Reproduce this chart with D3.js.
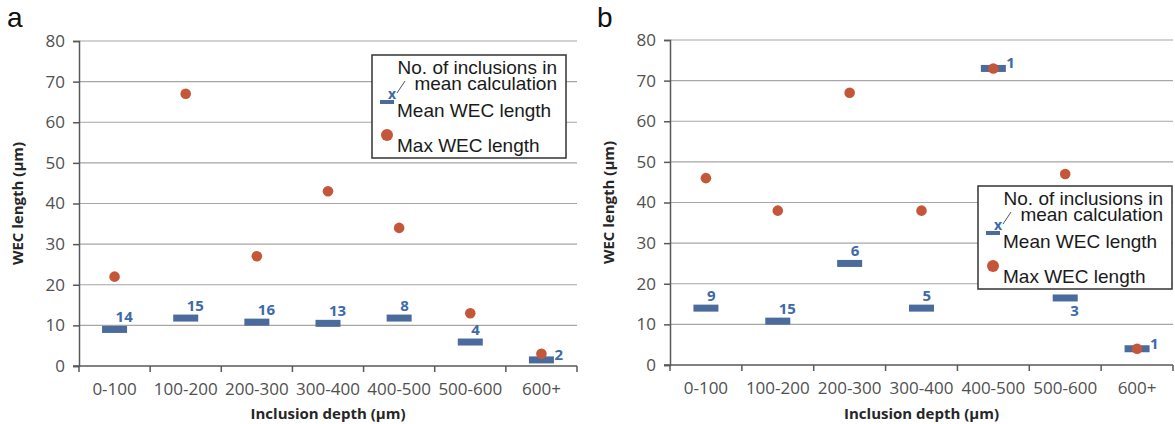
<!DOCTYPE html>
<html>
<head>
<meta charset="utf-8">
<script src="https://cdn.jsdelivr.net/npm/d3@7"></script>
<style>
  body { margin: 0; background: #fff; }
  svg { display: block; }
  .tick text { font-family: "Open Sans", sans-serif; font-size: 17px; fill: #505050; }
  .xlab { font-family: "Open Sans", sans-serif; font-size: 17px; fill: #505050; }
  .axis-title { font-family: "Open Sans", sans-serif; font-size: 15px; font-weight: bold; fill: #262626; }
  .legend text { font-family: "Liberation Sans", Arial, sans-serif; font-size: 19px; fill: #1a1a1a; }
  .count { font-family: "Open Sans", sans-serif; font-size: 15px; font-weight: bold; fill: #3d6aa8; }
</style>
</head>
<body>
<script>
// categories shared by both panels
const depths = ["0-100", "100-200", "200-300", "300-400", "400-500", "500-600", "600+"];
const yTicks = [0, 10, 20, 30, 40, 50, 60, 70, 80];

// panel a
const meanA  = [9, 11.8, 10.8, 10.5, 11.8, 5.9, 1.5];
const maxA   = [22, 67, 27, 43, 34, 13, 3];
const countA = [14, 15, 16, 13, 8, 4, 2];
const countPosA = ["above", "above", "above", "above", "above", "above", "right"];

// panel b
const meanB  = [14, 10.8, 25, 14, 73, 16.5, 4];
const maxB   = [46, 38, 67, 38, 73, 47, 4];
const countB = [9, 15, 6, 5, 1, 3, 1];
const countPosB = ["above", "above", "above", "above", "right", "below", "right"];

const BLUE = "#4a6b9c";
const RED = "#c4573a";

const svg = d3.select("body").append("svg")
    .attr("width", 1175)
    .attr("height", 424);

function drawPanel(p) {
    const x = d3.scaleBand().domain(depths).range([p.left, p.right]);
    const y = d3.scaleLinear().domain([0, 80]).range([p.bottom, p.top]);
    const g = svg.append("g");

    // panel letter
    g.append("text")
        .attr("x", p.letterX).attr("y", 27)
        .attr("font-family", "Liberation Sans, Arial, sans-serif")
        .attr("font-size", 28)
        .attr("fill", "#111")
        .text(p.letter);

    // gridlines
    g.selectAll("line.grid")
        .data(yTicks.filter(d => d > 0))
        .join("line")
        .attr("class", "grid")
        .attr("x1", p.left).attr("x2", p.right)
        .attr("y1", d => y(d)).attr("y2", d => y(d))
        .attr("stroke", "#a6a6a6")
        .attr("stroke-width", 1.2);

    // y axis
    const yAxis = g.append("g")
        .attr("transform", `translate(${p.left},0)`)
        .call(d3.axisLeft(y).tickValues(yTicks).tickSize(6).tickPadding(8));
    yAxis.select(".domain").attr("stroke", "#595959").attr("stroke-width", 1.5);
    yAxis.selectAll(".tick line").attr("stroke", "#595959").attr("stroke-width", 1.5);

    // x axis with ticks at band boundaries
    const xAxisG = g.append("g").attr("transform", `translate(0,${p.bottom})`);
    xAxisG.append("line")
        .attr("x1", p.left - 6).attr("x2", p.right)
        .attr("stroke", "#595959").attr("stroke-width", 1.5);
    xAxisG.selectAll("line.xt")
        .data(depths.map(d => x(d)).concat([p.right]))
        .join("line")
        .attr("class", "xt")
        .attr("x1", d => d).attr("x2", d => d)
        .attr("y1", 0).attr("y2", 6)
        .attr("stroke", "#595959").attr("stroke-width", 1.5);
    xAxisG.selectAll("text")
        .data(depths)
        .join("text")
        .attr("class", "xlab")
        .attr("x", d => x(d) + x.bandwidth() / 2)
        .attr("y", 29)
        .attr("text-anchor", "middle")
        .text(d => d);

    // axis titles
    g.append("text")
        .attr("class", "axis-title")
        .attr("x", (p.left + p.right) / 2)
        .attr("y", 419)
        .attr("text-anchor", "middle")
        .text("Inclusion depth (µm)");
    g.append("text")
        .attr("class", "axis-title")
        .attr("transform", `translate(${p.left - 56},${(p.top + p.bottom) / 2}) rotate(-90)`)
        .attr("text-anchor", "middle")
        .text("WEC length (µm)");

    const cx = d => x(d) + x.bandwidth() / 2;

    // mean bars
    g.selectAll("rect.mean")
        .data(depths)
        .join("rect")
        .attr("class", "mean")
        .attr("x", d => cx(d) - 12.5)
        .attr("y", (d, i) => y(p.mean[i]) - 3.5)
        .attr("width", 25).attr("height", 7)
        .attr("fill", BLUE);

    // max dots
    g.selectAll("circle.max")
        .data(depths)
        .join("circle")
        .attr("class", "max")
        .attr("cx", cx)
        .attr("cy", (d, i) => y(p.max[i]))
        .attr("r", 5.3)
        .attr("fill", RED);

    // counts
    g.selectAll("text.count")
        .data(depths)
        .join("text")
        .attr("class", "count")
        .attr("x", (d, i) => {
            const pos = p.countPos[i];
            if (pos === "right") return cx(d) + 13;
            if (pos === "below") return cx(d) + 5;
            return cx(d) + 1;
        })
        .attr("y", (d, i) => {
            const pos = p.countPos[i];
            const yy = y(p.mean[i]);
            if (pos === "right") return yy;
            if (pos === "below") return yy + 18;
            return yy - 7;
        })
        .text((d, i) => p.count[i]);

    // legend
    const L = g.append("g").attr("class", "legend")
        .attr("transform", `translate(${p.legX},${p.legY})`);
    L.append("rect")
        .attr("x", 0).attr("y", 0)
        .attr("width", 194).attr("height", 103)
        .attr("fill", "#fff")
        .attr("stroke", "#333")
        .attr("stroke-width", 1.5);
    L.append("text").attr("x", 185).attr("y", 19).attr("text-anchor", "end")
        .text("No. of inclusions in");
    L.append("text").attr("x", 185).attr("y", 35).attr("text-anchor", "end")
        .text("mean calculation");
    L.append("line")
        .attr("x1", 25).attr("y1", 38).attr("x2", 33).attr("y2", 26)
        .attr("stroke", "#555").attr("stroke-width", 1);
    L.append("text").attr("x", 20).attr("y", 44)
        .attr("text-anchor", "middle")
        .style("font-family", "Open Sans, sans-serif").style("font-size", "14px")
        .style("font-weight", "bold").style("fill", "#3d6aa8")
        .text("x");
    L.append("rect")
        .attr("x", 8).attr("y", 45).attr("width", 14).attr("height", 4)
        .attr("fill", BLUE);
    L.append("text").attr("x", 25).attr("y", 62).text("Mean WEC length");
    L.append("circle").attr("cx", 15).attr("cy", 80).attr("r", 6).attr("fill", RED);
    L.append("text").attr("x", 25).attr("y", 97).text("Max WEC length");
}

drawPanel({
    letter: "a", letterX: 7,
    left: 79, right: 577, top: 41, bottom: 366,
    mean: meanA, max: maxA, count: countA, countPos: countPosA,
    legX: 372, legY: 55
});

drawPanel({
    letter: "b", letterX: 597,
    left: 670, right: 1173, top: 40, bottom: 365,
    mean: meanB, max: maxB, count: countB, countPos: countPosB,
    legX: 978, legY: 186
});
</script>
</body>
</html>
